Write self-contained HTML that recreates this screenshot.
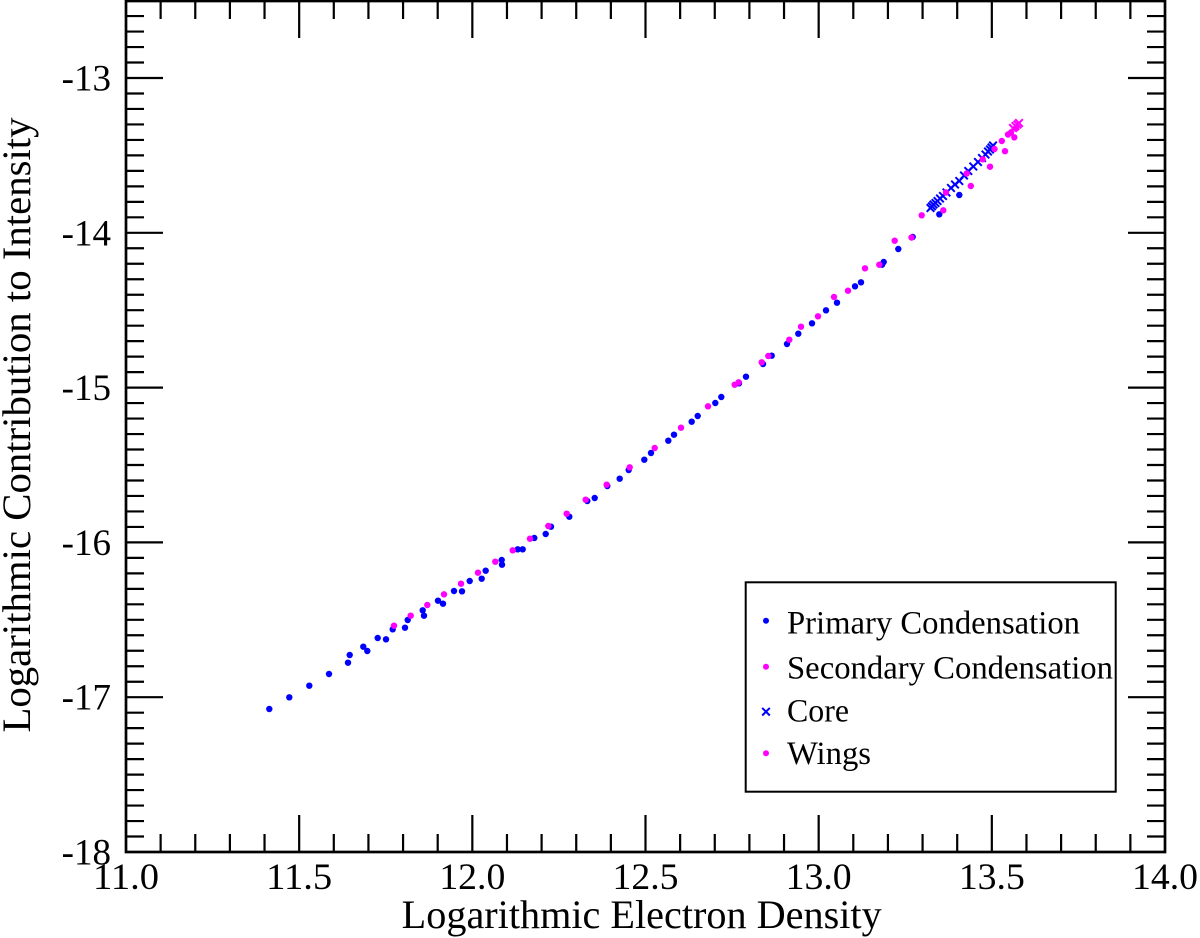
<!DOCTYPE html>
<html><head><meta charset="utf-8"><style>
html,body{margin:0;padding:0;background:#fff;}
svg{display:block;}
text{font-family:"Liberation Serif",serif;fill:#000;}
</style></head><body>
<svg width="1200" height="938" viewBox="0 0 1200 938" xmlns="http://www.w3.org/2000/svg">
<rect x="0" y="0" width="1200" height="938" fill="#fff"/>
<!-- frame -->
<rect x="126" y="1" width="1039" height="851" fill="none" stroke="#000" stroke-width="2.7"/>
<!-- x ticks -->
<g stroke="#000" stroke-width="2.2" fill="none">
<path d="M160.63 852v-18M195.27 852v-18M229.9 852v-18M264.53 852v-18M333.8 852v-18M368.43 852v-18M403.07 852v-18M437.7 852v-18M506.97 852v-18M541.6 852v-18M576.23 852v-18M610.87 852v-18M680.13 852v-18M714.77 852v-18M749.4 852v-18M784.03 852v-18M853.3 852v-18M887.93 852v-18M922.57 852v-18M957.2 852v-18M1026.47 852v-18M1061.1 852v-18M1095.73 852v-18M1130.37 852v-18"/>
<path d="M299.17 852v-37M472.33 852v-37M645.5 852v-37M818.67 852v-37M991.83 852v-37"/>
<path d="M160.63 1v18M195.27 1v18M229.9 1v18M264.53 1v18M333.8 1v18M368.43 1v18M403.07 1v18M437.7 1v18M506.97 1v18M541.6 1v18M576.23 1v18M610.87 1v18M680.13 1v18M714.77 1v18M749.4 1v18M784.03 1v18M853.3 1v18M887.93 1v18M922.57 1v18M957.2 1v18M1026.47 1v18M1061.1 1v18M1095.73 1v18M1130.37 1v18"/>
<path d="M299.17 1v37M472.33 1v37M645.5 1v37M818.67 1v37M991.83 1v37"/>
<!-- y ticks -->
<path d="M126 836.52h18M126 821.04h18M126 805.56h18M126 790.08h18M126 774.6h18M126 759.12h18M126 743.64h18M126 728.16h18M126 712.68h18M126 681.72h18M126 666.24h18M126 650.76h18M126 635.28h18M126 619.8h18M126 604.32h18M126 588.84h18M126 573.36h18M126 557.88h18M126 526.92h18M126 511.44h18M126 495.96h18M126 480.48h18M126 465h18M126 449.52h18M126 434.04h18M126 418.56h18M126 403.08h18M126 372.12h18M126 356.64h18M126 341.16h18M126 325.68h18M126 310.2h18M126 294.72h18M126 279.24h18M126 263.76h18M126 248.28h18M126 217.32h18M126 201.84h18M126 186.36h18M126 170.88h18M126 155.4h18M126 139.92h18M126 124.44h18M126 108.96h18M126 93.48h18M126 62.52h18M126 47.04h18M126 31.56h18M126 16.08h18"/>
<path d="M126 697.2h37M126 542.4h37M126 387.6h37M126 232.8h37M126 78h37"/>
<path d="M1165 836.52h-18M1165 821.04h-18M1165 805.56h-18M1165 790.08h-18M1165 774.6h-18M1165 759.12h-18M1165 743.64h-18M1165 728.16h-18M1165 712.68h-18M1165 681.72h-18M1165 666.24h-18M1165 650.76h-18M1165 635.28h-18M1165 619.8h-18M1165 604.32h-18M1165 588.84h-18M1165 573.36h-18M1165 557.88h-18M1165 526.92h-18M1165 511.44h-18M1165 495.96h-18M1165 480.48h-18M1165 465h-18M1165 449.52h-18M1165 434.04h-18M1165 418.56h-18M1165 403.08h-18M1165 372.12h-18M1165 356.64h-18M1165 341.16h-18M1165 325.68h-18M1165 310.2h-18M1165 294.72h-18M1165 279.24h-18M1165 263.76h-18M1165 248.28h-18M1165 217.32h-18M1165 201.84h-18M1165 186.36h-18M1165 170.88h-18M1165 155.4h-18M1165 139.92h-18M1165 124.44h-18M1165 108.96h-18M1165 93.48h-18M1165 62.52h-18M1165 47.04h-18M1165 31.56h-18M1165 16.08h-18"/>
<path d="M1165 697.2h-37M1165 542.4h-37M1165 387.6h-37M1165 232.8h-37M1165 78h-37"/>
</g>
<!-- tick labels -->
<g font-size="37" text-anchor="middle">
<text x="126" y="889" textLength="66" lengthAdjust="spacingAndGlyphs">11.0</text>
<text x="299.17" y="889" textLength="66" lengthAdjust="spacingAndGlyphs">11.5</text>
<text x="472.33" y="889" textLength="66" lengthAdjust="spacingAndGlyphs">12.0</text>
<text x="645.5" y="889" textLength="66" lengthAdjust="spacingAndGlyphs">12.5</text>
<text x="818.67" y="889" textLength="66" lengthAdjust="spacingAndGlyphs">13.0</text>
<text x="991.83" y="889" textLength="66" lengthAdjust="spacingAndGlyphs">13.5</text>
<text x="1165" y="889" textLength="66" lengthAdjust="spacingAndGlyphs">14.0</text>
</g>
<g font-size="37" text-anchor="end">
<text x="111" y="864.5">-18</text>
<text x="111" y="709.7">-17</text>
<text x="111" y="554.9">-16</text>
<text x="111" y="400.1">-15</text>
<text x="111" y="245.3">-14</text>
<text x="111" y="90.5">-13</text>
</g>
<!-- axis titles -->
<text x="641.7" y="928" font-size="40" text-anchor="middle" textLength="480" lengthAdjust="spacingAndGlyphs">Logarithmic Electron Density</text>
<text transform="translate(30,425) rotate(-90)" font-size="40" text-anchor="middle" textLength="615" lengthAdjust="spacingAndGlyphs">Logarithmic Contribution to Intensity</text>
<!-- primary -->
<g fill="#0000ff">
<circle cx="269.3" cy="709" r="3.2"/><circle cx="289.3" cy="697.3" r="3.2"/><circle cx="309.3" cy="685.7" r="3.2"/><circle cx="329" cy="674" r="3.2"/><circle cx="348" cy="662.7" r="3.2"/><circle cx="349.7" cy="655" r="3.2"/><circle cx="363.3" cy="646.7" r="3.2"/><circle cx="367.3" cy="651" r="3.2"/><circle cx="377.7" cy="638" r="3.2"/><circle cx="386" cy="639.3" r="3.2"/><circle cx="392.7" cy="629.3" r="3.2"/><circle cx="405" cy="627.7" r="3.2"/><circle cx="407.7" cy="620" r="3.2"/><circle cx="422.7" cy="610.3" r="3.2"/><circle cx="424" cy="615.7" r="3.2"/><circle cx="438" cy="600.7" r="3.2"/><circle cx="443" cy="603.7" r="3.2"/><circle cx="454" cy="591" r="3.2"/><circle cx="462" cy="591.3" r="3.2"/><circle cx="469.7" cy="581" r="3.2"/><circle cx="481.7" cy="578.7" r="3.2"/><circle cx="485.7" cy="570.7" r="3.2"/><circle cx="501.7" cy="560" r="3.2"/><circle cx="502" cy="564.7" r="3.2"/><circle cx="517.7" cy="549.3" r="3.2"/><circle cx="522.7" cy="549.3" r="3.2"/><circle cx="534.3" cy="538" r="3.2"/><circle cx="545.7" cy="534" r="3.2"/><circle cx="551" cy="526.7" r="3.2"/><circle cx="569.3" cy="516.7" r="3.2"/><circle cx="587.3" cy="501" r="3.2"/><circle cx="594.7" cy="498" r="3.2"/><circle cx="607.3" cy="486" r="3.2"/><circle cx="619.7" cy="478.7" r="3.2"/><circle cx="628.7" cy="470" r="3.2"/><circle cx="644.3" cy="459.7" r="3.2"/><circle cx="651" cy="453" r="3.2"/><circle cx="668.3" cy="440.7" r="3.2"/><circle cx="674" cy="434.7" r="3.2"/><circle cx="691.7" cy="421.7" r="3.2"/><circle cx="697.7" cy="416" r="3.2"/><circle cx="715.3" cy="403" r="3.2"/><circle cx="721.3" cy="397" r="3.2"/><circle cx="739" cy="383.3" r="3.2"/><circle cx="746" cy="376.7" r="3.2"/><circle cx="763" cy="364" r="3.2"/><circle cx="771.7" cy="355.7" r="3.2"/><circle cx="787" cy="344" r="3.2"/><circle cx="798.3" cy="333.7" r="3.2"/><circle cx="812" cy="323.3" r="3.2"/><circle cx="826" cy="310.3" r="3.2"/><circle cx="837" cy="302.7" r="3.2"/><circle cx="855" cy="286.3" r="3.2"/><circle cx="861" cy="282.3" r="3.2"/><circle cx="882" cy="264.7" r="3.2"/><circle cx="883.7" cy="262" r="3.2"/><circle cx="898.3" cy="249" r="3.2"/><circle cx="912.7" cy="237" r="3.2"/><circle cx="939.3" cy="214.3" r="3.2"/><circle cx="959.3" cy="195" r="3.2"/>
</g>
<!-- secondary -->
<g fill="#ff00ff">
<circle cx="394" cy="625.7" r="3.2"/><circle cx="410.7" cy="615.7" r="3.2"/><circle cx="427.3" cy="605" r="3.2"/><circle cx="444" cy="594.3" r="3.2"/><circle cx="461" cy="583.7" r="3.2"/><circle cx="478" cy="572.7" r="3.2"/><circle cx="495.3" cy="561.7" r="3.2"/><circle cx="512.7" cy="550.3" r="3.2"/><circle cx="530" cy="538.7" r="3.2"/><circle cx="548.3" cy="526" r="3.2"/><circle cx="566.7" cy="513.7" r="3.2"/><circle cx="585.7" cy="499.7" r="3.2"/><circle cx="606.7" cy="484.7" r="3.2"/><circle cx="629.7" cy="467.3" r="3.2"/><circle cx="654.7" cy="448" r="3.2"/><circle cx="681" cy="427.7" r="3.2"/><circle cx="708" cy="406.3" r="3.2"/><circle cx="734.7" cy="384.7" r="3.2"/><circle cx="738.7" cy="382.3" r="3.2"/><circle cx="761.7" cy="362.3" r="3.2"/><circle cx="768.3" cy="356" r="3.2"/><circle cx="789.3" cy="339.7" r="3.2"/><circle cx="801" cy="326.7" r="3.2"/><circle cx="818" cy="316.3" r="3.2"/><circle cx="834" cy="297" r="3.2"/><circle cx="848" cy="290.7" r="3.2"/><circle cx="865" cy="268.3" r="3.2"/><circle cx="879.3" cy="264.7" r="3.2"/><circle cx="894.7" cy="240.7" r="3.2"/><circle cx="911.5" cy="237.5" r="3.2"/>
</g>
<!-- core -->
<g stroke="#0000ff" stroke-width="2" fill="none">
<path d="M926.7 204.2l7.6 7.6m0 -7.6l-7.6 7.6M928.2 202.5l7.6 7.6m0 -7.6l-7.6 7.6M929.7 200.7l7.6 7.6m0 -7.6l-7.6 7.6M931.7 199.2l7.6 7.6m0 -7.6l-7.6 7.6M933.7 197.2l7.6 7.6m0 -7.6l-7.6 7.6M936.2 194.7l7.6 7.6m0 -7.6l-7.6 7.6M939.2 192.2l7.6 7.6m0 -7.6l-7.6 7.6M942.7 188.7l7.6 7.6m0 -7.6l-7.6 7.6M947.2 184.2l7.6 7.6m0 -7.6l-7.6 7.6M951.2 180.7l7.6 7.6m0 -7.6l-7.6 7.6M955.5 177.2l7.6 7.6m0 -7.6l-7.6 7.6M960.2 171.7l7.6 7.6m0 -7.6l-7.6 7.6M964.5 167.2l7.6 7.6m0 -7.6l-7.6 7.6M969.5 162.7l7.6 7.6m0 -7.6l-7.6 7.6M974.2 158.2l7.6 7.6m0 -7.6l-7.6 7.6M978.2 154.2l7.6 7.6m0 -7.6l-7.6 7.6M981.7 150.7l7.6 7.6m0 -7.6l-7.6 7.6M984.2 147.7l7.6 7.6m0 -7.6l-7.6 7.6M986.2 145.7l7.6 7.6m0 -7.6l-7.6 7.6M987.7 143.7l7.6 7.6m0 -7.6l-7.6 7.6M989.2 141.7l7.6 7.6m0 -7.6l-7.6 7.6"/>
</g>
<!-- wings -->
<g fill="#ff00ff">
<circle cx="921.7" cy="215.3" r="3.2"/><circle cx="943.3" cy="210.3" r="3.2"/><circle cx="946" cy="192.5" r="3.2"/><circle cx="970.8" cy="186" r="3.2"/><circle cx="966.7" cy="173.5" r="3.2"/><circle cx="990" cy="166.7" r="3.2"/><circle cx="982.7" cy="159.3" r="3.2"/><circle cx="1005" cy="151.2" r="3.2"/><circle cx="994.5" cy="149" r="3.2"/><circle cx="1001.8" cy="141" r="3.2"/><circle cx="1008" cy="134.5" r="3.2"/><circle cx="1011" cy="132.5" r="3.2"/><circle cx="1014.3" cy="137.3" r="3.2"/><circle cx="1016" cy="128.5" r="3.2"/>
</g>
<g stroke="#ff00ff" stroke-width="2" fill="none">
<path d="M1009.2 124.2l7.6 7.6m0 -7.6l-7.6 7.6M1011.7 122.2l7.6 7.6m0 -7.6l-7.6 7.6M1013.7 120.7l7.6 7.6m0 -7.6l-7.6 7.6M1015.2 119.2l7.6 7.6m0 -7.6l-7.6 7.6"/>
</g>
<!-- legend -->
<rect x="745.7" y="582.3" width="370" height="209.4" fill="#fff" stroke="#000" stroke-width="2"/>
<circle cx="766" cy="620.7" r="3" fill="#0000ff"/>
<circle cx="766" cy="666.7" r="3" fill="#ff00ff"/>
<path d="M762.2 707.9l7.6 7.6m0 -7.6l-7.6 7.6" stroke="#0000ff" stroke-width="2"/>
<circle cx="766" cy="753.3" r="3" fill="#ff00ff"/>
<g font-size="33">
<text x="787" y="633.5" textLength="293" lengthAdjust="spacingAndGlyphs">Primary Condensation</text>
<text x="787" y="678.5" textLength="326" lengthAdjust="spacingAndGlyphs">Secondary Condensation</text>
<text x="787" y="721.5" textLength="62" lengthAdjust="spacingAndGlyphs">Core</text>
<text x="787" y="764" textLength="84" lengthAdjust="spacingAndGlyphs">Wings</text>
</g>
</svg>
</body></html>
